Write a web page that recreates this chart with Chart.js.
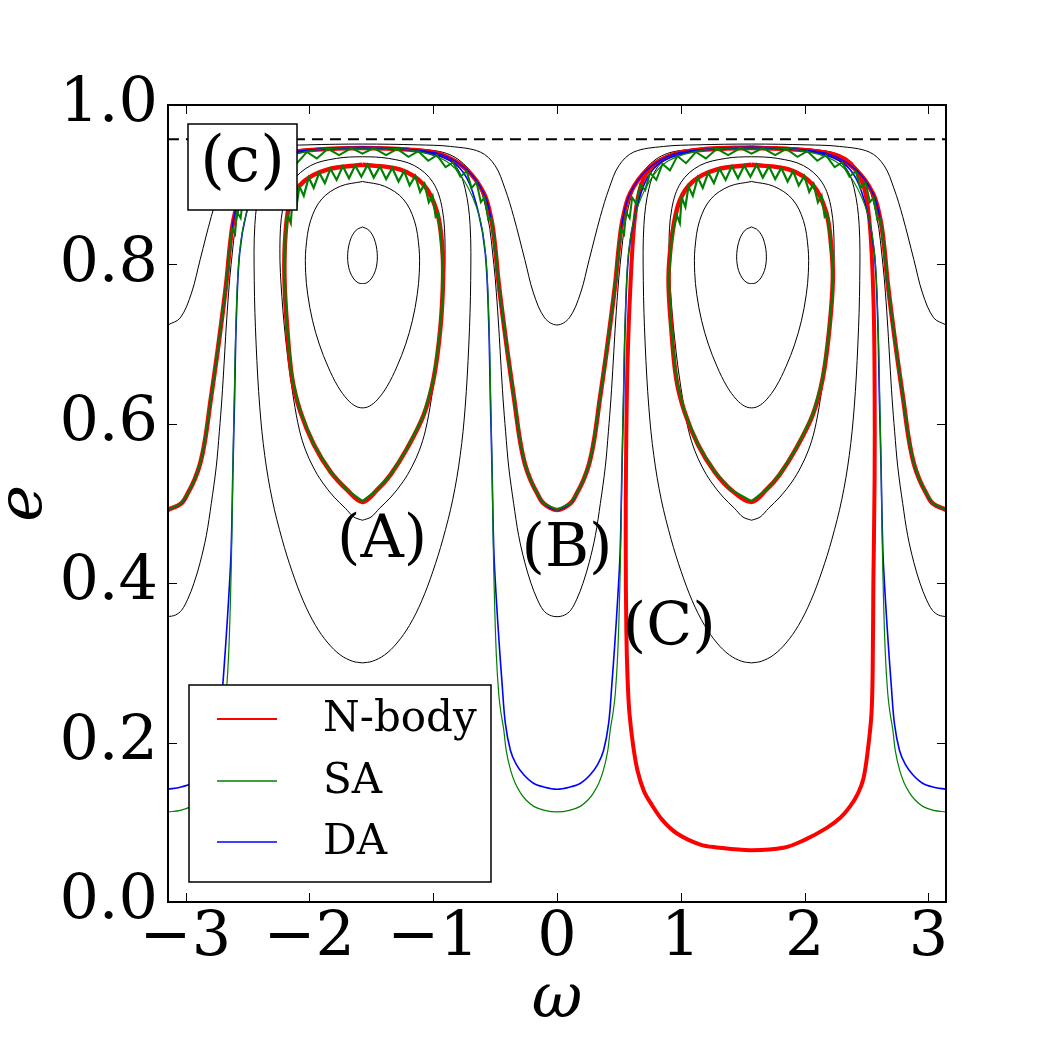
<!DOCTYPE html>
<html>
<head>
<meta charset="utf-8">
<script src="https://cdn.jsdelivr.net/npm/chart.js@4.4.1/dist/chart.umd.min.js"></script>
<style>
    html, body { margin: 0; padding: 0; background: #fff; }
    #wrap { width: 1050px; height: 1050px; }
</style>
</head>
<body>
<div id="wrap"><canvas id="chartPhase" width="1050" height="1050"></canvas></div>
<script>
// tick labels
const xTicks = [-3, -2, -1, 0, 1, 2, 3];
const yTicks = [0, 0.2, 0.4, 0.6, 0.8, 1.0];

// black contours of the averaged hamiltonian, [omega, e]
const islandSmallLeft = [[-1.571,0.847],[-1.520,0.843],[-1.476,0.832],[-1.452,0.814],[-1.460,0.796],[-1.495,0.783],[-1.535,0.777],[-1.571,0.776],[-1.607,0.777],[-1.647,0.783],[-1.682,0.796],[-1.690,0.814],[-1.666,0.832],[-1.622,0.843],[-1.571,0.847]];
const islandSmallRight = [[1.571,0.847],[1.622,0.843],[1.666,0.832],[1.690,0.814],[1.682,0.796],[1.647,0.783],[1.607,0.777],[1.571,0.776],[1.535,0.777],[1.495,0.783],[1.460,0.796],[1.452,0.814],[1.476,0.832],[1.520,0.843],[1.571,0.847]];
const islandMidLeft = [[-1.571,0.904],[-1.750,0.898],[-1.900,0.882],[-1.990,0.855],[-2.028,0.820],[-2.030,0.790],[-2.013,0.762],[-1.975,0.730],[-1.920,0.700],[-1.850,0.672],[-1.770,0.647],[-1.690,0.630],[-1.625,0.622],[-1.571,0.620],[-1.517,0.622],[-1.452,0.630],[-1.372,0.647],[-1.292,0.672],[-1.222,0.700],[-1.167,0.730],[-1.129,0.762],[-1.112,0.790],[-1.114,0.820],[-1.152,0.855],[-1.242,0.882],[-1.392,0.898],[-1.571,0.904]];
const islandMidRight = [[1.571,0.904],[1.392,0.898],[1.242,0.882],[1.152,0.855],[1.114,0.820],[1.112,0.790],[1.129,0.762],[1.167,0.730],[1.222,0.700],[1.292,0.672],[1.372,0.647],[1.452,0.630],[1.517,0.622],[1.571,0.620],[1.625,0.622],[1.690,0.630],[1.770,0.647],[1.850,0.672],[1.920,0.700],[1.975,0.730],[2.013,0.762],[2.030,0.790],[2.028,0.820],[1.990,0.855],[1.900,0.882],[1.750,0.898],[1.571,0.904]];
const islandOuterLeft = [[-1.571,0.479],[-1.640,0.483],[-1.709,0.494],[-1.800,0.508],[-1.897,0.527],[-1.970,0.546],[-2.031,0.567],[-2.080,0.592],[-2.126,0.630],[-2.180,0.690],[-2.222,0.760],[-2.238,0.820],[-2.215,0.870],[-2.140,0.903],[-1.990,0.924],[-1.780,0.933],[-1.571,0.935],[-1.362,0.933],[-1.152,0.924],[-1.002,0.903],[-0.927,0.870],[-0.904,0.820],[-0.920,0.760],[-0.962,0.690],[-1.016,0.630],[-1.062,0.592],[-1.111,0.567],[-1.172,0.546],[-1.245,0.527],[-1.342,0.508],[-1.433,0.494],[-1.502,0.483],[-1.571,0.479]];
const islandOuterRight = [[1.571,0.479],[1.502,0.483],[1.433,0.494],[1.342,0.508],[1.245,0.527],[1.172,0.546],[1.111,0.567],[1.062,0.592],[1.016,0.630],[0.962,0.690],[0.920,0.760],[0.904,0.820],[0.927,0.870],[1.002,0.903],[1.152,0.924],[1.362,0.933],[1.571,0.935],[1.780,0.933],[1.990,0.924],[2.140,0.903],[2.215,0.870],[2.238,0.820],[2.222,0.760],[2.180,0.690],[2.126,0.630],[2.080,0.592],[2.031,0.567],[1.970,0.546],[1.897,0.527],[1.800,0.508],[1.709,0.494],[1.640,0.483],[1.571,0.479]];
const islandWideLeft = [[-1.571,0.300],[-1.650,0.302],[-1.750,0.310],[-1.850,0.325],[-1.950,0.347],[-2.050,0.378],[-2.140,0.415],[-2.220,0.455],[-2.300,0.505],[-2.360,0.560],[-2.400,0.620],[-2.430,0.700],[-2.445,0.780],[-2.440,0.850],[-2.400,0.895],[-2.330,0.922],[-2.200,0.937],[-1.950,0.944],[-1.571,0.946],[-1.192,0.944],[-0.942,0.937],[-0.812,0.922],[-0.742,0.895],[-0.702,0.850],[-0.697,0.780],[-0.712,0.700],[-0.742,0.620],[-0.782,0.560],[-0.842,0.505],[-0.922,0.455],[-1.002,0.415],[-1.092,0.378],[-1.192,0.347],[-1.292,0.325],[-1.392,0.310],[-1.492,0.302],[-1.571,0.300]];
const islandWideRight = [[1.571,0.300],[1.492,0.302],[1.392,0.310],[1.292,0.325],[1.192,0.347],[1.092,0.378],[1.002,0.415],[0.922,0.455],[0.842,0.505],[0.782,0.560],[0.742,0.620],[0.712,0.700],[0.697,0.780],[0.702,0.850],[0.742,0.895],[0.812,0.922],[0.942,0.937],[1.192,0.944],[1.571,0.946],[1.950,0.944],[2.200,0.937],[2.330,0.922],[2.400,0.895],[2.440,0.850],[2.445,0.780],[2.430,0.700],[2.400,0.620],[2.360,0.560],[2.300,0.505],[2.220,0.455],[2.140,0.415],[2.050,0.378],[1.950,0.347],[1.850,0.325],[1.750,0.310],[1.650,0.302],[1.571,0.300]];
const circHigh = [[-3.142,0.724],[-3.042,0.733],[-2.952,0.764],[-2.882,0.806],[-2.792,0.860],[-2.722,0.895],[-2.642,0.924],[-2.522,0.941],[-2.282,0.948],[-2.012,0.950],[-1.571,0.951],[-1.130,0.950],[-0.860,0.948],[-0.620,0.941],[-0.500,0.924],[-0.420,0.895],[-0.350,0.860],[-0.260,0.806],[-0.190,0.764],[-0.100,0.733],[0,0.724],[0.100,0.733],[0.190,0.764],[0.260,0.806],[0.350,0.860],[0.420,0.895],[0.500,0.924],[0.620,0.941],[0.860,0.948],[1.130,0.950],[1.571,0.951],[2.012,0.950],[2.282,0.948],[2.522,0.941],[2.642,0.924],[2.722,0.895],[2.792,0.860],[2.882,0.806],[2.952,0.764],[3.042,0.733],[3.142,0.724]];
const circLow = [[-3.142,0.358],[-3.082,0.360],[-3.032,0.366],[-2.982,0.380],[-2.932,0.400],[-2.882,0.426],[-2.832,0.460],[-2.792,0.500],[-2.752,0.546],[-2.727,0.590],[-2.707,0.630],[-2.687,0.680],[-2.672,0.720],[-2.652,0.765],[-2.632,0.800],[-2.582,0.860],[-2.492,0.905],[-2.342,0.932],[-2.142,0.943],[-1.571,0.947],[-1.000,0.943],[-0.800,0.932],[-0.650,0.905],[-0.560,0.860],[-0.510,0.800],[-0.490,0.765],[-0.470,0.720],[-0.455,0.680],[-0.435,0.630],[-0.415,0.590],[-0.390,0.546],[-0.350,0.500],[-0.310,0.460],[-0.260,0.426],[-0.210,0.400],[-0.160,0.380],[-0.110,0.366],[-0.060,0.360],[0,0.358],[0.060,0.360],[0.110,0.366],[0.160,0.380],[0.210,0.400],[0.260,0.426],[0.310,0.460],[0.350,0.500],[0.390,0.546],[0.415,0.590],[0.435,0.630],[0.455,0.680],[0.470,0.720],[0.490,0.765],[0.510,0.800],[0.560,0.860],[0.650,0.905],[0.800,0.932],[1.000,0.943],[1.571,0.947],[2.142,0.943],[2.342,0.932],[2.492,0.905],[2.582,0.860],[2.632,0.800],[2.652,0.765],[2.672,0.720],[2.687,0.680],[2.707,0.630],[2.727,0.590],[2.752,0.546],[2.792,0.500],[2.832,0.460],[2.882,0.426],[2.932,0.400],[2.982,0.380],[3.032,0.366],[3.082,0.360],[3.142,0.358]];
const eMaxLine = [[-3.142,0.957],[3.142,0.957]];

// orbit (A): librating around +-pi/2
const orbitALeft = [[-1.571,0.925],[-1.856,0.919],[-2.045,0.904],[-2.153,0.879],[-2.193,0.837],[-2.201,0.783],[-2.179,0.720],[-2.139,0.657],[-2.072,0.615],[-1.964,0.574],[-1.830,0.540],[-1.695,0.517],[-1.571,0.502],[-1.453,0.517],[-1.345,0.536],[-1.211,0.569],[-1.077,0.611],[-0.996,0.657],[-0.942,0.720],[-0.920,0.783],[-0.928,0.824],[-0.969,0.866],[-1.077,0.900],[-1.265,0.919],[-1.571,0.925]];
const orbitARight = [[1.571,0.925],[1.286,0.919],[1.097,0.904],[0.989,0.879],[0.930,0.837],[0.901,0.783],[0.923,0.720],[0.963,0.657],[1.030,0.615],[1.138,0.574],[1.272,0.540],[1.407,0.517],[1.571,0.502],[1.689,0.517],[1.797,0.536],[1.931,0.569],[2.065,0.611],[2.146,0.657],[2.200,0.720],[2.228,0.783],[2.214,0.824],[2.173,0.866],[2.065,0.900],[1.877,0.919],[1.571,0.925]];
const orbitALeftSA = [[-2.193,0.837],[-2.175,0.862],[-2.150,0.852],[-2.135,0.884],[-2.105,0.872],[-2.080,0.898],[-2.045,0.886],[-2.005,0.909],[-1.965,0.896],[-1.920,0.915],[-1.875,0.902],[-1.830,0.920],[-1.780,0.906],[-1.730,0.923],[-1.680,0.908],[-1.630,0.924],[-1.580,0.910],[-1.530,0.925],[-1.480,0.909],[-1.430,0.923],[-1.380,0.907],[-1.330,0.921],[-1.280,0.904],[-1.235,0.917],[-1.190,0.899],[-1.145,0.911],[-1.105,0.891],[-1.070,0.901],[-1.035,0.878],[-1.005,0.886],[-0.980,0.860],[-0.960,0.864],[-0.940,0.835],[-0.922,0.800],[-0.925,0.760],[-0.942,0.720],[-0.996,0.657],[-1.077,0.611],[-1.211,0.569],[-1.345,0.536],[-1.453,0.517],[-1.571,0.503],[-1.695,0.517],[-1.830,0.540],[-1.964,0.574],[-2.072,0.615],[-2.139,0.657],[-2.179,0.720],[-2.199,0.783],[-2.193,0.837]];
const orbitARightSA = [[0.930,0.837],[0.967,0.862],[0.992,0.852],[1.007,0.884],[1.037,0.872],[1.062,0.898],[1.097,0.886],[1.137,0.909],[1.177,0.896],[1.222,0.915],[1.267,0.902],[1.312,0.920],[1.362,0.906],[1.412,0.923],[1.462,0.908],[1.512,0.924],[1.562,0.910],[1.612,0.925],[1.662,0.909],[1.712,0.923],[1.762,0.907],[1.812,0.921],[1.862,0.904],[1.907,0.917],[1.952,0.899],[1.997,0.911],[2.037,0.891],[2.072,0.901],[2.107,0.878],[2.137,0.886],[2.162,0.860],[2.182,0.864],[2.205,0.835],[2.225,0.800],[2.222,0.760],[2.200,0.720],[2.146,0.657],[2.065,0.611],[1.931,0.569],[1.797,0.536],[1.689,0.517],[1.571,0.503],[1.407,0.517],[1.272,0.540],[1.138,0.574],[1.030,0.615],[0.963,0.657],[0.923,0.720],[0.903,0.783],[0.930,0.837]];
// orbit (B): circulating
const orbitB = [[-3.142,0.492],[-3.035,0.500],[-2.981,0.513],[-2.927,0.530],[-2.882,0.550],[-2.842,0.580],[-2.797,0.630],[-2.742,0.690],[-2.672,0.775],[-2.642,0.822],[-2.612,0.856],[-2.552,0.889],[-2.412,0.919],[-2.202,0.938],[-1.942,0.944],[-1.571,0.946],[-1.200,0.944],[-0.940,0.938],[-0.730,0.919],[-0.590,0.889],[-0.530,0.856],[-0.500,0.822],[-0.470,0.775],[-0.400,0.690],[-0.345,0.630],[-0.300,0.580],[-0.260,0.550],[-0.215,0.530],[-0.161,0.513],[-0.107,0.500],[0,0.492],[0.107,0.500],[0.161,0.513],[0.215,0.530],[0.260,0.550],[0.300,0.580],[0.345,0.630],[0.400,0.690],[0.470,0.775],[0.500,0.822],[0.530,0.856],[0.590,0.889],[0.730,0.919],[0.940,0.938],[1.200,0.944],[1.571,0.946],[1.942,0.944],[2.202,0.938],[2.412,0.919],[2.552,0.889],[2.612,0.856],[2.642,0.822],[2.672,0.775],[2.742,0.690],[2.797,0.630],[2.842,0.580],[2.882,0.550],[2.927,0.530],[2.981,0.513],[3.035,0.500],[3.142,0.492]];
const orbitBSA = [[-3.142,0.492],[-3.035,0.500],[-2.981,0.513],[-2.927,0.530],[-2.882,0.550],[-2.842,0.580],[-2.797,0.630],[-2.742,0.690],[-2.672,0.775],[-2.642,0.822],[-2.625,0.845],[-2.600,0.838],[-2.585,0.866],[-2.555,0.858],[-2.535,0.884],[-2.500,0.876],[-2.470,0.900],[-2.430,0.893],[-2.390,0.915],[-2.340,0.906],[-2.290,0.926],[-2.230,0.918],[-2.170,0.936],[-2.100,0.927],[-2.020,0.941],[-1.940,0.933],[-1.850,0.945],[-1.760,0.937],[-1.660,0.946],[-1.571,0.939],[-1.480,0.946],[-1.380,0.937],[-1.290,0.945],[-1.200,0.935],[-1.120,0.942],[-1.040,0.930],[-0.970,0.937],[-0.900,0.922],[-0.840,0.928],[-0.780,0.910],[-0.730,0.917],[-0.690,0.896],[-0.650,0.903],[-0.615,0.878],[-0.585,0.884],[-0.555,0.856],[-0.530,0.858],[-0.500,0.822],[-0.470,0.775],[-0.400,0.690],[-0.345,0.630],[-0.300,0.580],[-0.260,0.550],[-0.215,0.530],[-0.161,0.513],[-0.107,0.500],[0,0.492],[0.107,0.500],[0.161,0.513],[0.215,0.530],[0.260,0.550],[0.300,0.580],[0.345,0.630],[0.400,0.690],[0.470,0.775],[0.500,0.822],[0.517,0.845],[0.542,0.838],[0.557,0.866],[0.587,0.858],[0.607,0.884],[0.642,0.876],[0.672,0.900],[0.712,0.893],[0.752,0.915],[0.802,0.906],[0.852,0.926],[0.912,0.918],[0.972,0.936],[1.042,0.927],[1.122,0.941],[1.202,0.933],[1.292,0.945],[1.382,0.937],[1.482,0.946],[1.571,0.939],[1.662,0.946],[1.762,0.937],[1.852,0.945],[1.942,0.935],[2.022,0.942],[2.102,0.930],[2.172,0.937],[2.242,0.922],[2.302,0.928],[2.362,0.910],[2.412,0.917],[2.452,0.896],[2.492,0.903],[2.527,0.878],[2.557,0.884],[2.587,0.856],[2.612,0.858],[2.642,0.822],[2.672,0.775],[2.742,0.690],[2.797,0.630],[2.842,0.580],[2.882,0.550],[2.927,0.530],[2.981,0.513],[3.035,0.500],[3.142,0.492]];
// orbit (C): N-body librates, SA / DA circulate
const orbitCNbody = [[1.571,0.947],[1.200,0.945],[0.950,0.938],[0.780,0.925],[0.680,0.900],[0.630,0.860],[0.595,0.780],[0.570,0.680],[0.558,0.560],[0.555,0.450],[0.560,0.340],[0.570,0.280],[0.585,0.237],[0.616,0.195],[0.650,0.165],[0.700,0.140],[0.753,0.125],[0.850,0.103],[0.969,0.086],[1.157,0.072],[1.291,0.0685],[1.560,0.065],[1.829,0.068],[2.000,0.078],[2.179,0.093],[2.290,0.106],[2.367,0.120],[2.430,0.136],[2.475,0.155],[2.510,0.190],[2.540,0.237],[2.550,0.300],[2.555,0.400],[2.565,0.530],[2.565,0.650],[2.555,0.760],[2.520,0.860],[2.460,0.905],[2.330,0.932],[2.100,0.942],[1.571,0.947]];
const orbitCSA = [[-3.142,0.113],[-3.042,0.115],[-2.954,0.120],[-2.892,0.128],[-2.847,0.137],[-2.802,0.150],[-2.766,0.166],[-2.732,0.190],[-2.712,0.216],[-2.687,0.240],[-2.671,0.262],[-2.652,0.310],[-2.637,0.380],[-2.627,0.450],[-2.617,0.550],[-2.607,0.630],[-2.592,0.730],[-2.567,0.810],[-2.512,0.862],[-2.392,0.905],[-2.242,0.930],[-1.942,0.944],[-1.571,0.946],[-1.200,0.944],[-0.900,0.930],[-0.750,0.905],[-0.630,0.862],[-0.575,0.810],[-0.550,0.730],[-0.535,0.630],[-0.525,0.550],[-0.515,0.450],[-0.505,0.380],[-0.490,0.310],[-0.471,0.262],[-0.455,0.240],[-0.430,0.216],[-0.410,0.190],[-0.376,0.166],[-0.340,0.150],[-0.295,0.137],[-0.250,0.128],[-0.188,0.120],[-0.100,0.115],[0,0.113],[0.100,0.115],[0.188,0.120],[0.250,0.128],[0.295,0.137],[0.340,0.150],[0.376,0.166],[0.410,0.190],[0.430,0.216],[0.455,0.240],[0.471,0.262],[0.490,0.310],[0.505,0.380],[0.515,0.450],[0.525,0.550],[0.535,0.630],[0.550,0.730],[0.575,0.810],[0.630,0.862],[0.750,0.905],[0.900,0.930],[1.200,0.944],[1.571,0.946],[1.942,0.944],[2.242,0.930],[2.392,0.905],[2.512,0.862],[2.567,0.810],[2.592,0.730],[2.607,0.630],[2.617,0.550],[2.627,0.450],[2.637,0.380],[2.652,0.310],[2.671,0.262],[2.687,0.240],[2.712,0.216],[2.732,0.190],[2.766,0.166],[2.802,0.150],[2.847,0.137],[2.892,0.128],[2.954,0.120],[3.042,0.115],[3.142,0.113]];
const orbitCDA = [[-3.142,0.1415],[-3.042,0.144],[-2.952,0.149],[-2.872,0.160],[-2.812,0.173],[-2.766,0.190],[-2.725,0.224],[-2.698,0.275],[-2.677,0.320],[-2.652,0.380],[-2.632,0.440],[-2.617,0.546],[-2.604,0.630],[-2.590,0.730],[-2.563,0.814],[-2.509,0.864],[-2.415,0.908],[-2.281,0.930],[-2.012,0.943],[-1.571,0.947],[-1.130,0.943],[-0.861,0.930],[-0.727,0.908],[-0.633,0.864],[-0.579,0.814],[-0.552,0.730],[-0.538,0.630],[-0.525,0.546],[-0.510,0.440],[-0.490,0.380],[-0.465,0.320],[-0.444,0.275],[-0.417,0.224],[-0.376,0.190],[-0.330,0.173],[-0.270,0.160],[-0.190,0.149],[-0.100,0.144],[0,0.1415],[0.100,0.144],[0.190,0.149],[0.270,0.160],[0.330,0.173],[0.376,0.190],[0.417,0.224],[0.444,0.275],[0.465,0.320],[0.490,0.380],[0.510,0.440],[0.525,0.546],[0.538,0.630],[0.552,0.730],[0.579,0.814],[0.633,0.864],[0.727,0.908],[0.861,0.930],[1.130,0.943],[1.571,0.947],[2.012,0.943],[2.281,0.930],[2.415,0.908],[2.509,0.864],[2.563,0.814],[2.590,0.730],[2.604,0.630],[2.617,0.546],[2.632,0.440],[2.652,0.380],[2.677,0.320],[2.698,0.275],[2.725,0.224],[2.766,0.190],[2.812,0.173],[2.872,0.160],[2.952,0.149],[3.042,0.144],[3.142,0.1415]];

// text labels in the panel
const legendNames = ["N-body", "SA", "DA"];
const legendColors = ["#ff0000", "#008000", "#0000ff"];
const orbitLabels = ["(A)", "(B)", "(C)"];
const orbitLabelW = [-1.412, 0.081, 0.906];
const orbitLabelE = [0.433, 0.422, 0.322];
const panelLabel = "(c)";

const SERIF = "'DejaVu Serif', serif";

const toXY = (pts) => pts.map((p) => ({ x: p[0], y: p[1] }));

const curve = (pts, color, width, order, extra) => ({
    data: toXY(pts),
    showLine: true,
    borderColor: color,
    borderWidth: width,
    pointRadius: 0,
    tension: 0.35,
    fill: false,
    order,
    ...extra,
});

const contours = [
    islandSmallLeft, islandSmallRight, islandMidLeft, islandMidRight,
    islandOuterLeft, islandOuterRight, islandWideLeft, islandWideRight,
    circHigh, circLow,
];

const jagged = { tension: 0, borderJoinStyle: "miter" };

const datasets = [
    ...contours.map((c) => curve(c, "#000000", 1, 6)),
    curve(eMaxLine, "#000000", 1.8, 5, { borderDash: [11, 7], tension: 0 }),
    curve(orbitALeft, "#ff0000", 4.5, 4),
    curve(orbitARight, "#ff0000", 4.5, 4),
    curve(orbitB, "#ff0000", 4.5, 4),
    curve(orbitCNbody, "#ff0000", 4, 4),
    curve(orbitB, "#0000ff", 1.5, 3),
    curve(orbitCDA, "#0000ff", 1.6, 3),
    curve(orbitALeftSA, "#008000", 2.2, 2, jagged),
    curve(orbitARightSA, "#008000", 2.2, 2, jagged),
    curve(orbitBSA, "#008000", 2, 2, jagged),
    curve(orbitCSA, "#008000", 1.2, 2),
];

// ticks pointing inward, frame, labels, legend
const panelDecor = {
    id: "panelDecor",
    afterDraw(chart) {
        const { ctx, chartArea: a, scales } = chart;
        const sx = scales.x;
        const sy = scales.y;
        const seg = (x1, y1, x2, y2) => {
            ctx.beginPath();
            ctx.moveTo(x1, y1);
            ctx.lineTo(x2, y2);
            ctx.stroke();
        };
        ctx.save();
        ctx.strokeStyle = "#000";
        ctx.lineWidth = 1;
        xTicks.forEach((v) => {
            const px = Math.round(sx.getPixelForValue(v)) + 0.5;
            seg(px, a.bottom, px, a.bottom - 9);
            seg(px, a.top, px, a.top + 9);
        });
        yTicks.forEach((v) => {
            const py = Math.round(sy.getPixelForValue(v)) + 0.5;
            seg(a.left, py, a.left + 9, py);
            seg(a.right, py, a.right - 9, py);
        });

        // orbit names
        ctx.fillStyle = "#000";
        ctx.font = `60px ${SERIF}`;
        ctx.textAlign = "center";
        ctx.textBaseline = "alphabetic";
        orbitLabels.forEach((t, i) => {
            ctx.fillText(t, sx.getPixelForValue(orbitLabelW[i]), sy.getPixelForValue(orbitLabelE[i]));
        });

        // panel tag box
        ctx.lineWidth = 1.5;
        ctx.fillStyle = "#fff";
        ctx.fillRect(188, 124, 109, 86);
        ctx.strokeRect(188, 124, 109, 86);
        ctx.fillStyle = "#000";
        ctx.font = `63px ${SERIF}`;
        ctx.textBaseline = "middle";
        ctx.fillText(panelLabel, 242.5, 165);

        // legend
        ctx.fillStyle = "#fff";
        ctx.fillRect(189, 685, 302, 197);
        ctx.strokeRect(189, 685, 302, 197);
        ctx.font = `42px ${SERIF}`;
        ctx.textAlign = "left";
        const rows = [719, 781, 842];
        legendNames.forEach((name, i) => {
            ctx.strokeStyle = legendColors[i];
            ctx.lineWidth = i === 0 ? 2 : 1.5;
            seg(217, rows[i], 277, rows[i]);
            ctx.fillStyle = "#000";
            ctx.fillText(name, 323, rows[i] + 1);
        });

        // frame
        ctx.strokeStyle = "#000";
        ctx.lineWidth = 2;
        ctx.strokeRect(a.left, a.top, a.right - a.left, a.bottom - a.top);
        ctx.restore();
    },
};

new Chart(document.getElementById("chartPhase"), {
    type: "scatter",
    data: { datasets },
    options: {
        responsive: false,
        animation: false,
        devicePixelRatio: 1,
        layout: { padding: { top: 105, right: 104, left: 0, bottom: 0 } },
        plugins: {
            legend: { display: false },
            tooltip: { enabled: false },
        },
        scales: {
            x: {
                type: "linear",
                min: -Math.PI,
                max: Math.PI,
                afterFit: (s) => { s.height = 148; },
                afterBuildTicks: (s) => { s.ticks = xTicks.map((v) => ({ value: v })); },
                grid: { display: false, drawTicks: false },
                border: { display: false },
                ticks: {
                    color: "#000",
                    padding: 0,
                    maxRotation: 0,
                    font: { family: SERIF, size: 62 },
                    callback: (v) => (v < 0 ? "\u2212" + Math.abs(v) : String(v)),
                },
                title: {
                    display: true,
                    text: "\u03c9",
                    color: "#000",
                    font: { family: SERIF, size: 62, style: "italic", lineHeight: 1 },
                    padding: { top: 0, bottom: 18 },
                },
            },
            y: {
                type: "linear",
                min: 0,
                max: 1,
                afterFit: (s) => { s.width = 168; },
                afterBuildTicks: (s) => { s.ticks = yTicks.map((v) => ({ value: v })); },
                grid: { display: false, drawTicks: false },
                border: { display: false },
                ticks: {
                    color: "#000",
                    padding: 10,
                    font: { family: SERIF, size: 62 },
                    callback: (v) => Number(v).toFixed(1),
                },
                title: {
                    display: true,
                    text: "e",
                    color: "#000",
                    font: { family: SERIF, size: 62, style: "italic", lineHeight: 1 },
                    padding: { top: -6, bottom: 0 },
                },
            },
        },
    },
    plugins: [panelDecor],
});
</script>
</body>
</html>
